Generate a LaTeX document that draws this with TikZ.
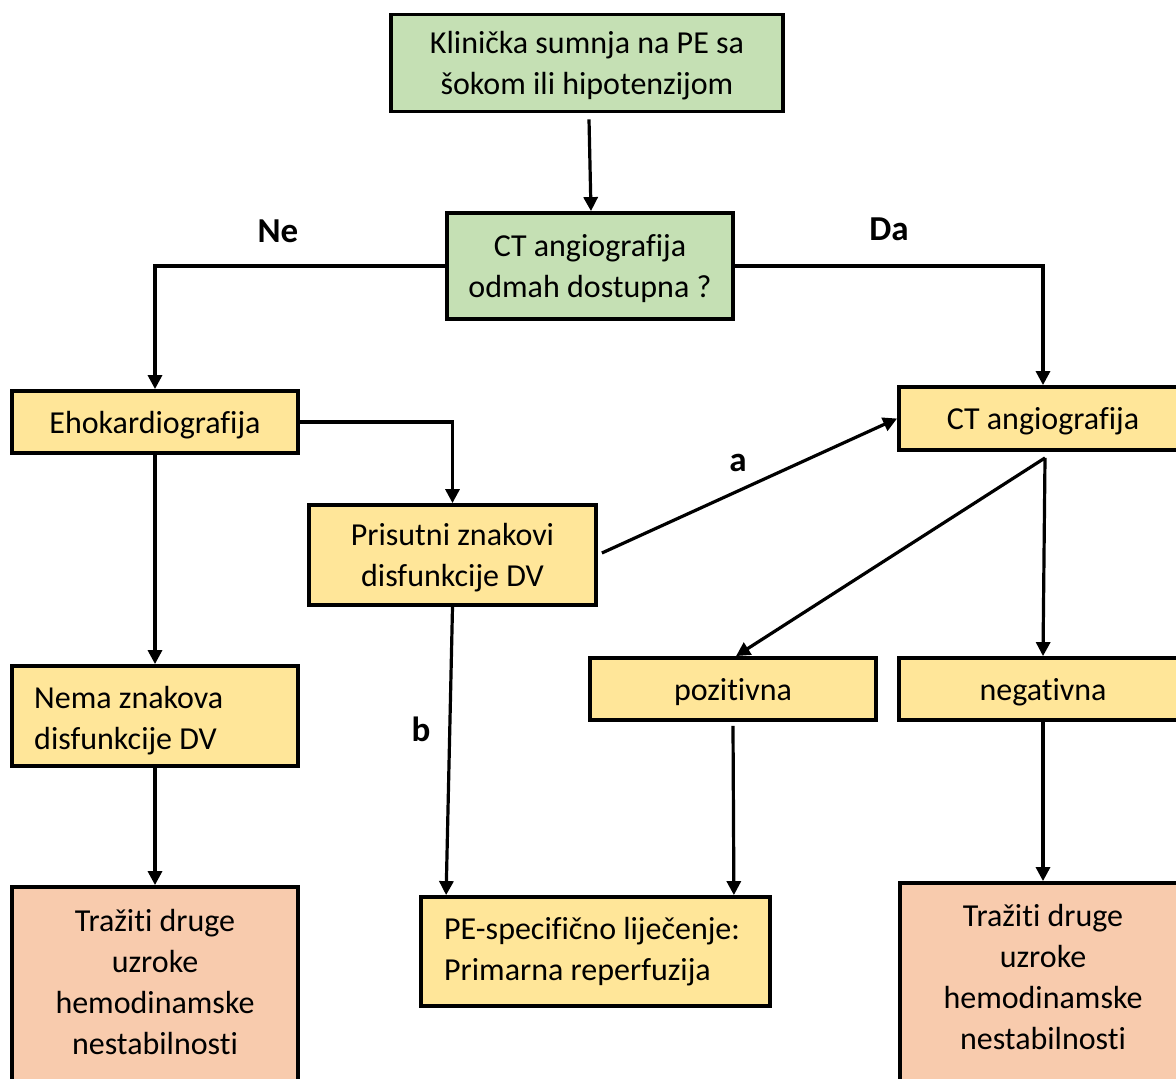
\documentclass[tikz,border=0pt]{standalone}
\usepackage{fontspec}
\setmainfont{Carlito}[Ligatures=NoCommon]
\usetikzlibrary{arrows.meta,calc}
\definecolor{gfill}{HTML}{C5E0B4}
\definecolor{yfill}{HTML}{FFE699}
\definecolor{pfill}{HTML}{F8CBAD}
\tikzset{
  box/.style={draw=black, line width=3.8pt, rectangle, inner sep=0pt, align=center,
    text depth=-3pt, font=\fontsize{32}{41}\selectfont},
  gbox/.style={box, fill=gfill},
  ybox/.style={box, fill=yfill},
  pbox/.style={box, fill=pfill},
  txt/.style={inner sep=0pt, align=center, font=\fontsize{32}{41}\selectfont},
  ltxt/.style={inner sep=0pt, align=flush left, anchor=west, font=\fontsize{32}{41}\selectfont},
  lbl/.style={inner sep=0pt, font=\fontsize{35}{40}\selectfont\bfseries},
  arr/.style={line width=3.2pt, -{Triangle[length=14pt,width=14pt]}}
}
\begin{document}
\begin{tikzpicture}[x=1pt,y=-1pt]
\useasboundingbox (0,0) rectangle (1176,1079);
\clip (0,0) rectangle (1176,1079);
\fill[white] (0,0) rectangle (1176,1079);

\node[gbox, minimum width=392pt, minimum height=97pt] (top) at (587,63)
  {Klinička sumnja na PE sa\\šokom ili hipotenzijom};
\node[gbox, minimum width=286pt, minimum height=106pt] (ctq) at (590,266)
  {CT angiografija\\odmah dostupna ?};
\node[ybox, minimum width=286pt, minimum height=62pt] (eho) at (155,422)
  {Ehokardiografija};
\node[ybox, minimum width=288pt, minimum height=63pt] (cta) at (1043,418.5)
  {CT angiografija};
\node[ybox, minimum width=287pt, minimum height=100pt] (pris) at (452.5,555)
  {Prisutni znakovi\\disfunkcije DV};
\node[ybox, minimum width=286pt, minimum height=62pt] (poz) at (733,689)
  {pozitivna};
\node[ybox, minimum width=288pt, minimum height=62pt] (neg) at (1043,689)
  {negativna};
\node[ybox, minimum width=286pt, minimum height=100pt] (nema) at (155,716) {};
\node[ltxt] (nemat) at (34,720.5) {Nema znakova\\disfunkcije DV};
\node[ybox, minimum width=349pt, minimum height=109pt] (pe) at (595.5,951.5) {};
\node[ltxt] (pet) at (444,951.5) {PE-specifično liječenje:\\Primarna reperfuzija};
\node[pbox, minimum width=286pt, minimum height=240pt] (tl) at (155,1007) {};
\node[txt] (tlt) at (155,982) {Tražiti druge\\uzroke\\hemodinamske\\nestabilnosti};
\node[pbox, minimum width=286pt, minimum height=240pt] (tr) at (1043,1003) {};
\node[txt] (trt) at (1043,977) {Tražiti druge\\uzroke\\hemodinamske\\nestabilnosti};

\node[lbl] (ne) at (278,231) {Ne};
\node[lbl] (da) at (889,229) {Da};
\node[lbl] (la) at (738,463) {a};
\node[lbl] (lb) at (421,729) {b};

\coordinate (c1) at ($(top.south)+(2,6)$);
\draw[arr] (c1) -- ($(ctq.north)+(1,0)$);
\draw[arr] (ctq.west) -| (eho.north);
\draw[arr] (ctq.east) -| (cta.north);
\draw[arr] (eho.east) -| (pris.north);
\draw[arr] (eho.south) -- (nema.north);
\draw[arr] ($(pris.east)+(4,-2)$) -- (cta.west);
\draw[arr] (pris.south) -- ($(pe.north west)+(27,0)$);
\coordinate (c2) at ($(cta.south)+(2,6)$);
\draw[arr] (c2) -- ($(poz.north)+(3,0)$);
\draw[arr] (c2) -- ($(neg.north)$);
\draw[arr] ($(poz.south)+(0,4)$) -- ($(pe.north east)+(-38,0)$);
\draw[arr] (neg.south) -- (tr.north);
\draw[arr] (nema.south) -- (tl.north);
\end{tikzpicture}
\end{document}
